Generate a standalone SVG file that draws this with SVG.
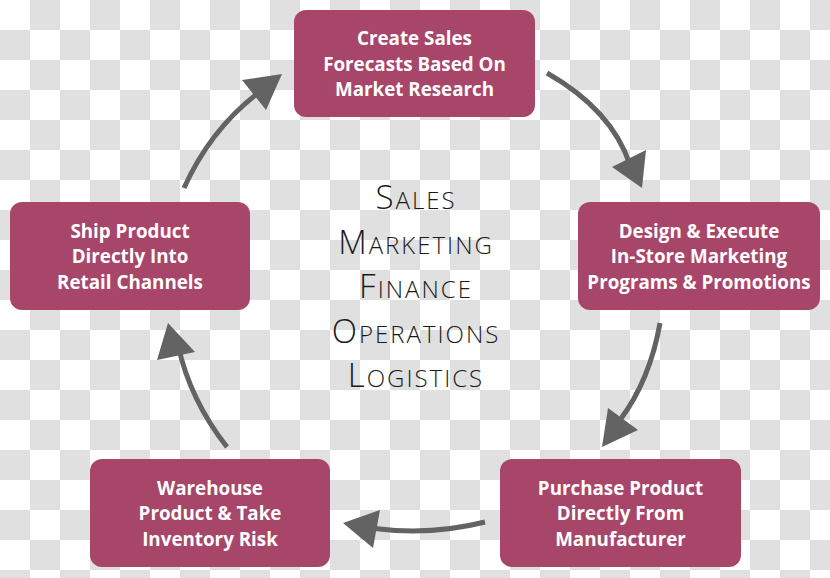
<svg xmlns="http://www.w3.org/2000/svg" width="830" height="578" viewBox="0 0 830 578">
<defs>
<pattern id="chk" x="0" y="0" width="60" height="60" patternUnits="userSpaceOnUse">
<rect width="60" height="60" fill="#ffffff"/>
<rect x="30" y="0" width="30" height="30" fill="#e0e0e0"/>
<rect x="0" y="30" width="30" height="30" fill="#e0e0e0"/>
</pattern>
<style>
.box{fill:#a8466a;}
.lbl{font-family:"Open Sans","Liberation Sans",sans-serif;font-weight:700;font-size:18.8px;fill:#ffffff;text-anchor:middle;}
.ctr{font-family:"Open Sans","Liberation Sans",sans-serif;font-weight:300;font-size:24px;letter-spacing:2px;fill:#1a1a1a;text-anchor:middle;}
.big{font-size:33px;}
.con{fill:none;stroke:#636363;stroke-width:5;}
.head{fill:#636363;}
</style>
</defs>
<rect width="830" height="578" fill="url(#chk)"/>
<g id="connectors">
<path class="con" d="M547,73 Q612,110 630,165"/>
<polygon class="head" points="612,167 646,150 642,188"/>
<path class="con" d="M660,323 Q650,380 620,420"/>
<polygon class="head" points="608,408 638,430 602,447"/>
<path class="con" d="M485,522 Q430,536 370,528"/>
<polygon class="head" points="380,510 373,548 343,523"/>
<path class="con" d="M227,447 Q190,400 178,345"/>
<polygon class="head" points="168,323 195,352 157,360"/>
<path class="con" d="M184,188 Q210,130 258,93"/>
<polygon class="head" points="242,80 282,74 266,110"/>
</g>
<g id="center">
<text class="ctr" x="416" y="209"><tspan class="big">S</tspan>ALES</text>
<text class="ctr" x="416" y="254"><tspan class="big">M</tspan>ARKETING</text>
<text class="ctr" x="416" y="298"><tspan class="big">F</tspan>INANCE</text>
<text class="ctr" x="416" y="343"><tspan class="big">O</tspan>PERATIONS</text>
<text class="ctr" x="416" y="387"><tspan class="big">L</tspan>OGISTICS</text>
</g>
<g id="n1">
<rect class="box" x="294" y="10" width="241" height="107" rx="12"/>
<text class="lbl" x="414.5" y="45">Create Sales</text>
<text class="lbl" x="414.5" y="71">Forecasts Based On</text>
<text class="lbl" x="414.5" y="96">Market Research</text>
</g>
<g id="n2">
<rect class="box" x="578" y="202" width="242" height="108" rx="12"/>
<text class="lbl" x="699" y="238">Design &amp; Execute</text>
<text class="lbl" x="699" y="263">In-Store Marketing</text>
<text class="lbl" x="699" y="289">Programs &amp; Promotions</text>
</g>
<g id="n3">
<rect class="box" x="500" y="459" width="241" height="108" rx="12"/>
<text class="lbl" x="620.5" y="495">Purchase Product</text>
<text class="lbl" x="620.5" y="520">Directly From</text>
<text class="lbl" x="620.5" y="546">Manufacturer</text>
</g>
<g id="n4">
<rect class="box" x="90" y="459" width="240" height="108" rx="12"/>
<text class="lbl" x="210" y="495">Warehouse</text>
<text class="lbl" x="210" y="520">Product &amp; Take</text>
<text class="lbl" x="210" y="546">Inventory Risk</text>
</g>
<g id="n5">
<rect class="box" x="10" y="202" width="240" height="108" rx="12"/>
<text class="lbl" x="130" y="238">Ship Product</text>
<text class="lbl" x="130" y="263">Directly Into</text>
<text class="lbl" x="130" y="289">Retail Channels</text>
</g>
</svg>
